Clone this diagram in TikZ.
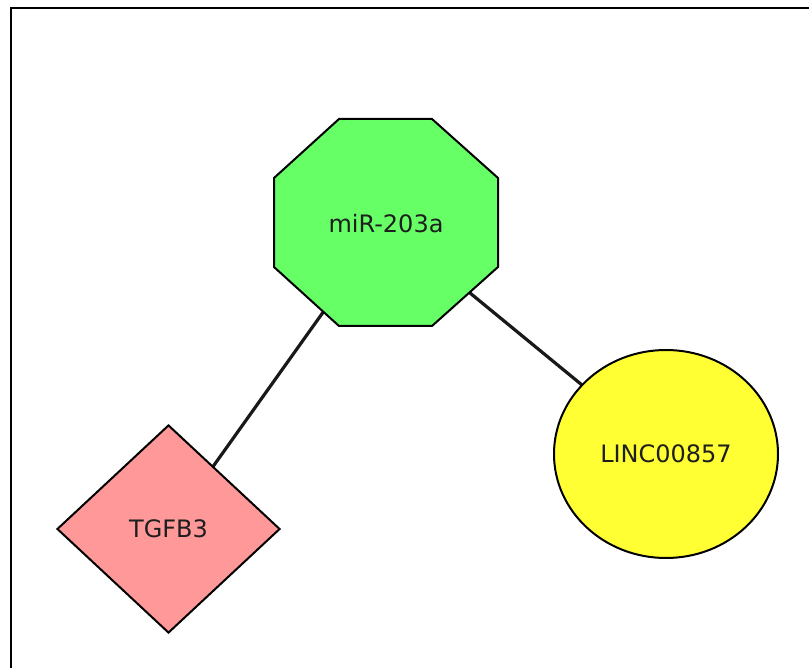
\documentclass[tikz,border=0pt]{standalone}
\usepackage{fontspec}
\setmainfont{DejaVu Sans}
\usetikzlibrary{shapes.geometric,backgrounds}
\definecolor{mirgreen}{RGB}{102,255,102}
\definecolor{tgfpink}{RGB}{255,153,153}
\definecolor{lincyellow}{RGB}{255,255,51}
\definecolor{labeltext}{RGB}{30,30,30}
\tikzset{
  every node/.style={font=\fontsize{24}{28}\selectfont, inner sep=0pt, text=labeltext},
  shapeline/.style={draw=black, line width=2pt},
  edgeline/.style={draw=black!90, line width=3.2pt},
  frameline/.style={draw=black, line width=2.8pt}
}
\begin{document}
\begin{tikzpicture}[x=1pt,y=-1pt]
\useasboundingbox (0,0) rectangle (809,668);
% frame
\draw[frameline] (809,8) -- (11,8) -- (11,668);
% octagon
\filldraw[shapeline, fill=mirgreen] (339,119) -- (432,119) -- (498,178) -- (498,267) -- (432,326) -- (339,326) -- (274,267) -- (274,178) -- cycle;
\node (mir) at (386,224) {miR-203a};
\node[diamond, shapeline, fill=tgfpink, minimum width=223pt, minimum height=208pt] (tgf) at (168.5,529) {TGFB3};
\node[ellipse, shapeline, fill=lincyellow, minimum width=224pt, minimum height=208pt] (linc) at (666,454) {LINC00857};
\begin{scope}[on background layer]
\draw[edgeline] (mir.center) -- (tgf.center);
\draw[edgeline] (mir.center) -- (linc.center);
\end{scope}
\end{tikzpicture}
\end{document}
